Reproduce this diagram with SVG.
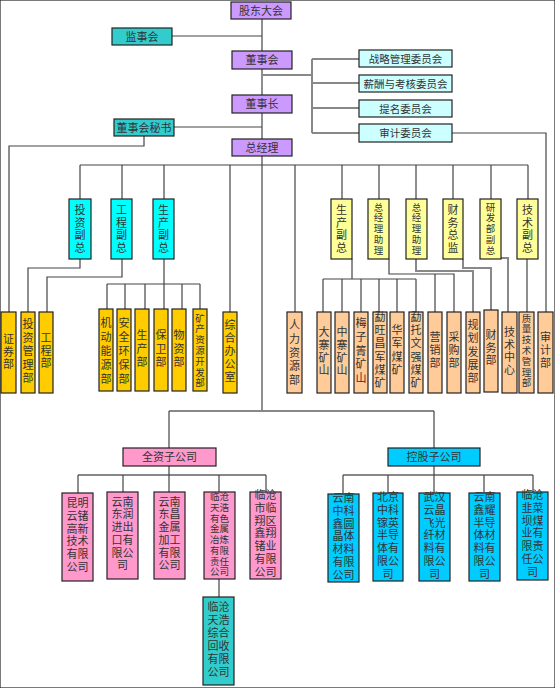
<svg xmlns="http://www.w3.org/2000/svg" width="555" height="688" viewBox="0 0 555 688">
<style>
text{font-family:"Liberation Sans","Noto Sans CJK SC",sans-serif;fill:#333;text-anchor:middle;font-size:11px}
.s{font-size:9.5px}
.m{font-size:9.5px}
.c{font-size:10.5px}
rect{stroke:#222;stroke-width:1.2}
.pu{fill:#CC99FF}.te{fill:#33CCCC}.lc{fill:#CCFFFF}.cy{fill:#00FFFF}.go{fill:#FFCC00}.ye{fill:#FFFF99}.pe{fill:#FFCC99}.pk{fill:#FF99CC}.bl{fill:#00CCFF}
#connectors path{fill:none;stroke:#444;stroke-width:1.2}
#connectors .g{stroke:#888;stroke-width:2}
</style>
<rect x="0" y="0" width="555" height="688" fill="#fff" stroke="none"/>
<g id="connectors">
<path d="M262 19V411"/>
<path d="M172 36H262"/>
<path class="g" d="M262 75H312"/>
<path class="g" d="M312 59V133M312 59H359M312 83H359M312 108H359M312 133H359"/>
<path d="M452 133H546V312"/>
<path d="M174 127H262"/>
<path d="M144 136V146H9V312"/>
<path d="M80 165H528"/>
<path d="M80 165V199M122 165V199M164 165V199M230 165V312M295 165V312M342 165V199M379 165V199M416 165V199M453 165V199M491 165V199M528 165V199"/>
<path d="M80 259V268H28V312"/>
<path d="M122 259V277H47V312"/>
<path d="M164 259V309M107 284H200M107 284V309M125 284V309M145 284V309M182 284V309M200 284V309"/>
<path d="M352 259V279M323 279H416M323 279V312M342 279V312M361 279V312M379 279V312M397 279V312M416 279V312"/>
<path d="M389 259V274H454V312M435 274V312"/>
<path class="g" d="M416 259V271H473V312"/>
<path class="g" d="M463 259V268H491V310"/>
<path class="g" d="M501 258H508V312"/>
<path d="M527 259V312"/>
<path class="g" d="M169 411H434"/>
<path d="M169 411V448M434 411V448"/>
<path class="g" d="M78 475H266M343 475H533"/>
<path d="M169 466V492M78 475V493M123 475V492M219 475V492M266 475V492M219 579V597"/>
<path d="M434 466V493M343 475V494M388 475V493M484 475V493M533 475V492"/>
</g>
<g id="n-gddh"><rect class="pu" x="231" y="2" width="60" height="17"/><text x="261" y="14.5">股东大会</text></g>
<g id="n-jsh"><rect class="te" x="112" y="28" width="60" height="17"/><text x="142" y="40.5">监事会</text></g>
<g id="n-dsh"><rect class="pu" x="232" y="51" width="60" height="18"/><text x="262" y="64">董事会</text></g>
<g id="n-dsz"><rect class="pu" x="232" y="95" width="60" height="18"/><text x="262" y="108">董事长</text></g>
<g id="n-mishu"><rect class="te" x="114" y="119" width="60" height="17"/><text x="144" y="131.5">董事会秘书</text></g>
<g id="n-zjl"><rect class="pu" x="232" y="139" width="60" height="17"/><text x="262" y="151.5">总经理</text></g>
<g id="n-zl"><rect class="lc" x="359" y="50" width="93" height="17"/><text class="c" x="405.5" y="62.5">战略管理委员会</text></g>
<g id="n-xc"><rect class="lc" x="359" y="75" width="93" height="17"/><text class="c" x="405.5" y="87.5">薪酬与考核委员会</text></g>
<g id="n-tm"><rect class="lc" x="359" y="100" width="93" height="17"/><text class="c" x="405.5" y="112.5">提名委员会</text></g>
<g id="n-sj"><rect class="lc" x="359" y="124" width="93" height="18"/><text class="c" x="405.5" y="137">审计委员会</text></g>

<g id="n-tzfz"><rect class="cy" x="69" y="199" width="22" height="60"/><text x="80" y="214"><tspan>投</tspan><tspan x="80" dy="12.5">资</tspan><tspan x="80" dy="12.5">副</tspan><tspan x="80" dy="12.5">总</tspan></text></g>
<g id="n-gcfz"><rect class="cy" x="111" y="199" width="21" height="60"/><text x="121.5" y="214"><tspan>工</tspan><tspan x="121.5" dy="12.5">程</tspan><tspan x="121.5" dy="12.5">副</tspan><tspan x="121.5" dy="12.5">总</tspan></text></g>
<g id="n-scfz1"><rect class="cy" x="153" y="199" width="21" height="60"/><text x="163.5" y="214"><tspan>生</tspan><tspan x="163.5" dy="12.5">产</tspan><tspan x="163.5" dy="12.5">副</tspan><tspan x="163.5" dy="12.5">总</tspan></text></g>
<g id="n-scfz2"><rect class="ye" x="331" y="199" width="21" height="60"/><text x="341.5" y="214"><tspan>生</tspan><tspan x="341.5" dy="12.5">产</tspan><tspan x="341.5" dy="12.5">副</tspan><tspan x="341.5" dy="12.5">总</tspan></text></g>
<g id="n-zjlzl1"><rect class="ye" x="368" y="199" width="21" height="60"/><text class="s" x="378.5" y="210.5"><tspan>总</tspan><tspan x="378.5" dy="10.8">经</tspan><tspan x="378.5" dy="10.8">理</tspan><tspan x="378.5" dy="10.8">助</tspan><tspan x="378.5" dy="10.8">理</tspan></text></g>
<g id="n-zjlzl2"><rect class="ye" x="406" y="199" width="21" height="60"/><text class="s" x="416.5" y="210.5"><tspan>总</tspan><tspan x="416.5" dy="10.8">经</tspan><tspan x="416.5" dy="10.8">理</tspan><tspan x="416.5" dy="10.8">助</tspan><tspan x="416.5" dy="10.8">理</tspan></text></g>
<g id="n-cwzj"><rect class="ye" x="443" y="199" width="20" height="60"/><text x="453" y="214"><tspan>财</tspan><tspan x="453" dy="12.5">务</tspan><tspan x="453" dy="12.5">总</tspan><tspan x="453" dy="12.5">监</tspan></text></g>
<g id="n-yffz"><rect class="ye" x="480" y="199" width="21" height="60"/><text class="s" x="490.5" y="210.5"><tspan>研</tspan><tspan x="490.5" dy="10.8">发</tspan><tspan x="490.5" dy="10.8">部</tspan><tspan x="490.5" dy="10.8">副</tspan><tspan x="490.5" dy="10.8">总</tspan></text></g>
<g id="n-jsfz"><rect class="ye" x="517" y="199" width="21" height="60"/><text x="527.5" y="214"><tspan>技</tspan><tspan x="527.5" dy="12.5">术</tspan><tspan x="527.5" dy="12.5">副</tspan><tspan x="527.5" dy="12.5">总</tspan></text></g>

<g id="n-zqb"><rect class="go" x="1" y="312" width="15" height="81"/><text x="8.5" y="343"><tspan>证</tspan><tspan x="8.5" dy="12.5">券</tspan><tspan x="8.5" dy="12.5">部</tspan></text></g>
<g id="n-tzglb"><rect class="go" x="21" y="312" width="14" height="81"/><text x="28" y="328"><tspan>投</tspan><tspan x="28" dy="13.5">资</tspan><tspan x="28" dy="13.5">管</tspan><tspan x="28" dy="13.5">理</tspan><tspan x="28" dy="13.5">部</tspan></text></g>
<g id="n-gcb"><rect class="go" x="39" y="312" width="14" height="81"/><text x="46" y="342"><tspan>工</tspan><tspan x="46" dy="12.5">程</tspan><tspan x="46" dy="12.5">部</tspan></text></g>
<g id="n-jdny"><rect class="go" x="99" y="309" width="14" height="82"/><text x="106" y="327"><tspan>机</tspan><tspan x="106" dy="14">动</tspan><tspan x="106" dy="14">能</tspan><tspan x="106" dy="14">源</tspan><tspan x="106" dy="14">部</tspan></text></g>
<g id="n-aqhb"><rect class="go" x="117" y="309" width="14" height="82"/><text x="124" y="327"><tspan>安</tspan><tspan x="124" dy="14">全</tspan><tspan x="124" dy="14">环</tspan><tspan x="124" dy="14">保</tspan><tspan x="124" dy="14">部</tspan></text></g>
<g id="n-scb"><rect class="go" x="135" y="309" width="14" height="82"/><text x="142" y="339"><tspan>生</tspan><tspan x="142" dy="13.5">产</tspan><tspan x="142" dy="13.5">部</tspan></text></g>
<g id="n-bwb"><rect class="go" x="154" y="309" width="14" height="82"/><text x="161" y="339"><tspan>保</tspan><tspan x="161" dy="13.5">卫</tspan><tspan x="161" dy="13.5">部</tspan></text></g>
<g id="n-wzb"><rect class="go" x="172" y="309" width="14" height="82"/><text x="179" y="339"><tspan>物</tspan><tspan x="179" dy="13.5">资</tspan><tspan x="179" dy="13.5">部</tspan></text></g>
<g id="n-kczy"><rect class="go" x="193" y="309" width="14" height="82"/><text class="s" x="200" y="321.5"><tspan>矿</tspan><tspan x="200" dy="10.8">产</tspan><tspan x="200" dy="10.8">资</tspan><tspan x="200" dy="10.8">源</tspan><tspan x="200" dy="10.8">开</tspan><tspan x="200" dy="10.8">发</tspan><tspan x="200" dy="10.8">部</tspan></text></g>
<g id="n-zhbgs"><rect class="go" x="223" y="312" width="14" height="81"/><text x="230" y="329"><tspan>综</tspan><tspan x="230" dy="13">合</tspan><tspan x="230" dy="13">办</tspan><tspan x="230" dy="13">公</tspan><tspan x="230" dy="13">室</tspan></text></g>

<g id="n-rlzy"><rect class="pe" x="287" y="312" width="15" height="81"/><text x="294.5" y="329"><tspan>人</tspan><tspan x="294.5" dy="13.75">力</tspan><tspan x="294.5" dy="13.75">资</tspan><tspan x="294.5" dy="13.75">源</tspan><tspan x="294.5" dy="13.75">部</tspan></text></g>
<g id="n-dzks"><rect class="pe" x="317" y="312" width="14" height="81"/><text x="324" y="336"><tspan>大</tspan><tspan x="324" dy="12.8">寨</tspan><tspan x="324" dy="12.8">矿</tspan><tspan x="324" dy="12.8">山</tspan></text></g>
<g id="n-zzks"><rect class="pe" x="335" y="312" width="14" height="81"/><text x="342" y="336"><tspan>中</tspan><tspan x="342" dy="12.8">寨</tspan><tspan x="342" dy="12.8">矿</tspan><tspan x="342" dy="12.8">山</tspan></text></g>
<g id="n-mzq"><rect class="pe" x="354" y="312" width="14" height="81"/><text x="361" y="327"><tspan>梅</tspan><tspan x="361" dy="13.75">子</tspan><tspan x="361" dy="13.75">箐</tspan><tspan x="361" dy="13.75">矿</tspan><tspan x="361" dy="13.75">山</tspan></text></g>
<g id="n-mwcj"><rect class="pe" x="373" y="312" width="14" height="81"/><text x="380" y="321"><tspan>勐</tspan><tspan x="380" dy="13.2">旺</tspan><tspan x="380" dy="13.2">昌</tspan><tspan x="380" dy="13.2">军</tspan><tspan x="380" dy="13.2">煤</tspan><tspan x="380" dy="13.2">矿</tspan></text></g>
<g id="n-hjmk"><rect class="pe" x="390" y="312" width="14" height="81"/><text x="397" y="334"><tspan>华</tspan><tspan x="397" dy="13.3">军</tspan><tspan x="397" dy="13.3">煤</tspan><tspan x="397" dy="13.3">矿</tspan></text></g>
<g id="n-mtwq"><rect class="pe" x="409" y="312" width="14" height="81"/><text x="416" y="321"><tspan>勐</tspan><tspan x="416" dy="13.2">托</tspan><tspan x="416" dy="13.2">文</tspan><tspan x="416" dy="13.2">强</tspan><tspan x="416" dy="13.2">煤</tspan><tspan x="416" dy="13.2">矿</tspan></text></g>
<g id="n-yxb"><rect class="pe" x="428" y="312" width="14" height="81"/><text x="435" y="341"><tspan>营</tspan><tspan x="435" dy="13">销</tspan><tspan x="435" dy="13">部</tspan></text></g>
<g id="n-cgb"><rect class="pe" x="447" y="312" width="14" height="81"/><text x="454" y="341"><tspan>采</tspan><tspan x="454" dy="13">购</tspan><tspan x="454" dy="13">部</tspan></text></g>
<g id="n-ghfz"><rect class="pe" x="466" y="312" width="14" height="81"/><text x="473" y="329"><tspan>规</tspan><tspan x="473" dy="13.25">划</tspan><tspan x="473" dy="13.25">发</tspan><tspan x="473" dy="13.25">展</tspan><tspan x="473" dy="13.25">部</tspan></text></g>
<g id="n-cwb"><rect class="pe" x="484" y="310" width="14" height="82"/><text x="491" y="339"><tspan>财</tspan><tspan x="491" dy="12.5">务</tspan><tspan x="491" dy="12.5">部</tspan></text></g>
<g id="n-jszx"><rect class="pe" x="502" y="312" width="15" height="81"/><text x="509.5" y="336"><tspan>技</tspan><tspan x="509.5" dy="12.7">术</tspan><tspan x="509.5" dy="12.7">中</tspan><tspan x="509.5" dy="12.7">心</tspan></text></g>
<g id="n-zljs"><rect class="pe" x="519" y="312" width="15" height="81"/><text class="s" x="526.5" y="321.5"><tspan>质</tspan><tspan x="526.5" dy="10.8">量</tspan><tspan x="526.5" dy="10.8">技</tspan><tspan x="526.5" dy="10.8">术</tspan><tspan x="526.5" dy="10.8">管</tspan><tspan x="526.5" dy="10.8">理</tspan><tspan x="526.5" dy="10.8">部</tspan></text></g>
<g id="n-sjb"><rect class="pe" x="538" y="312" width="15" height="81"/><text x="545.5" y="341"><tspan>审</tspan><tspan x="545.5" dy="13">计</tspan><tspan x="545.5" dy="13">部</tspan></text></g>

<g id="n-qz"><rect class="pk" x="123" y="448" width="93" height="18"/><text x="169.5" y="461">全资子公司</text></g>
<g id="n-kg"><rect class="bl" x="388" y="448" width="92" height="18"/><text x="434" y="461">控股子公司</text></g>

<g id="n-kmyz"><rect class="pk" x="62" y="493" width="31" height="88"/><text x="77.5" y="507.3"><tspan>昆明</tspan><tspan x="77.5" dy="12.7">云锗</tspan><tspan x="77.5" dy="12.7">高新</tspan><tspan x="77.5" dy="12.7">技术</tspan><tspan x="77.5" dy="12.7">有限</tspan><tspan x="77.5" dy="12.7">公司</tspan></text></g>
<g id="n-yndr"><rect class="pk" x="107" y="492" width="31" height="87"/><text x="122.5" y="505.7"><tspan>云南</tspan><tspan x="122.5" dy="12.7">东润</tspan><tspan x="122.5" dy="12.7">进出</tspan><tspan x="122.5" dy="12.7">口有</tspan><tspan x="122.5" dy="12.7">限公</tspan><tspan x="122.5" dy="12.7">司</tspan></text></g>
<g id="n-yndc"><rect class="pk" x="154" y="492" width="31" height="87"/><text x="169.5" y="505.7"><tspan>云南</tspan><tspan x="169.5" dy="12.7">东昌</tspan><tspan x="169.5" dy="12.7">金属</tspan><tspan x="169.5" dy="12.7">加工</tspan><tspan x="169.5" dy="12.7">有限</tspan><tspan x="169.5" dy="12.7">公司</tspan></text></g>
<g id="n-lcth"><rect class="pk" x="204" y="492" width="31" height="87"/><text class="m" x="219.5" y="500.3"><tspan>临沧</tspan><tspan x="219.5" dy="10.7">天浩</tspan><tspan x="219.5" dy="10.7">有色</tspan><tspan x="219.5" dy="10.7">金属</tspan><tspan x="219.5" dy="10.7">冶炼</tspan><tspan x="219.5" dy="10.7">有限</tspan><tspan x="219.5" dy="10.7">责任</tspan><tspan x="219.5" dy="10.7">公司</tspan></text></g>
<g id="n-lcxx"><rect class="pk" x="250" y="492" width="31" height="87"/><text x="265.5" y="499"><tspan>临沧</tspan><tspan x="265.5" dy="12.8">市临</tspan><tspan x="265.5" dy="12.8">翔区</tspan><tspan x="265.5" dy="12.8">鑫翔</tspan><tspan x="265.5" dy="12.8">锗业</tspan><tspan x="265.5" dy="12.8">有限</tspan><tspan x="265.5" dy="12.8">公司</tspan></text></g>
<g id="n-lchs"><rect class="te" x="203" y="597" width="31" height="88"/><text x="218.5" y="610.7"><tspan>临沧</tspan><tspan x="218.5" dy="13">天浩</tspan><tspan x="218.5" dy="13">综合</tspan><tspan x="218.5" dy="13">回收</tspan><tspan x="218.5" dy="13">有限</tspan><tspan x="218.5" dy="13">公司</tspan></text></g>

<g id="n-zkxy"><rect class="bl" x="328" y="494" width="31" height="88"/><text x="343.5" y="502"><tspan>云南</tspan><tspan x="343.5" dy="12.8">中科</tspan><tspan x="343.5" dy="12.8">鑫圆</tspan><tspan x="343.5" dy="12.8">晶体</tspan><tspan x="343.5" dy="12.8">材料</tspan><tspan x="343.5" dy="12.8">有限</tspan><tspan x="343.5" dy="12.8">公司</tspan></text></g>
<g id="n-bjzk"><rect class="bl" x="373" y="493" width="30" height="88"/><text x="388" y="501"><tspan>北京</tspan><tspan x="388" dy="12.8">中科</tspan><tspan x="388" dy="12.8">镓英</tspan><tspan x="388" dy="12.8">半导</tspan><tspan x="388" dy="12.8">体有</tspan><tspan x="388" dy="12.8">限公</tspan><tspan x="388" dy="12.8">司</tspan></text></g>
<g id="n-whyj"><rect class="bl" x="419" y="493" width="31" height="88"/><text x="434.5" y="501"><tspan>武汉</tspan><tspan x="434.5" dy="12.8">云晶</tspan><tspan x="434.5" dy="12.8">飞光</tspan><tspan x="434.5" dy="12.8">纤材</tspan><tspan x="434.5" dy="12.8">料有</tspan><tspan x="434.5" dy="12.8">限公</tspan><tspan x="434.5" dy="12.8">司</tspan></text></g>
<g id="n-ynxy"><rect class="bl" x="469" y="493" width="31" height="88"/><text x="484.5" y="501"><tspan>云南</tspan><tspan x="484.5" dy="12.8">鑫耀</tspan><tspan x="484.5" dy="12.8">半导</tspan><tspan x="484.5" dy="12.8">体材</tspan><tspan x="484.5" dy="12.8">料有</tspan><tspan x="484.5" dy="12.8">限公</tspan><tspan x="484.5" dy="12.8">司</tspan></text></g>
<g id="n-lcjcb"><rect class="bl" x="517" y="492" width="31" height="88"/><text x="532.5" y="499"><tspan>临沧</tspan><tspan x="532.5" dy="12.8">韭菜</tspan><tspan x="532.5" dy="12.8">坝煤</tspan><tspan x="532.5" dy="12.8">业有</tspan><tspan x="532.5" dy="12.8">限责</tspan><tspan x="532.5" dy="12.8">任公</tspan><tspan x="532.5" dy="12.8">司</tspan></text></g>
</svg>
